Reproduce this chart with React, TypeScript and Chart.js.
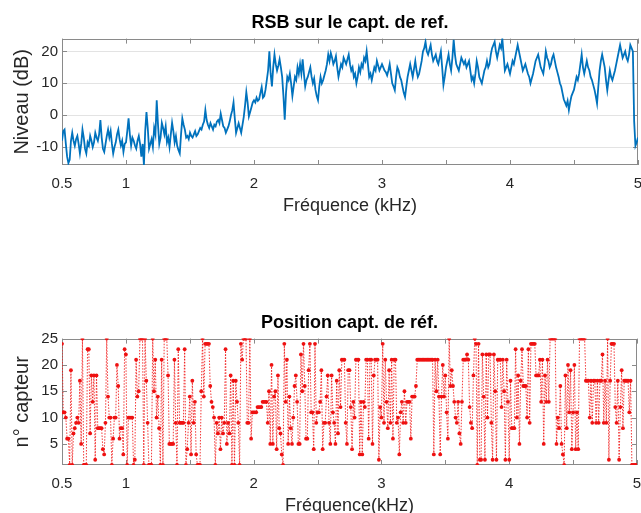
import React, { useEffect, useRef } from 'react';
import { Chart, registerables } from 'chart.js';

Chart.register(...registerables);
Chart.defaults.font.family = "'Liberation Sans', Arial, Helvetica, sans-serif";

// ---- data ----
const FREQ_START = 0.5; // kHz
const RSB_STEP = 0.01; // kHz between RSB samples
const POS_STEP = 0.01; // kHz between position samples
const X_MIN = 0.5;
const X_MAX = 5;
const X_TICKS = [0.5, 1, 1.5, 2, 2.5, 3, 3.5, 4, 4.5, 5];
const X_LABELED = [0.5, 1, 2, 3, 4, 5];
const RSB_TICKS = [-10, 0, 10, 20];
const RSB_MIN = -15.6;
const RSB_MAX = 24;
const POS_TICKS = [5, 10, 15, 20, 25];
const POS_MIN = 1;
const POS_MAX = 25;

// RSB (dB), 0.50 .. 5.00 kHz
const rsbDb = [
  -8, -5, -4.5, -9, -13, -15, -14, -8, -5.5, -8, -9.6, -7.5, -6.5, -9, -12, -9, -4.5, -7, -10.5, -12,
  -8.5, -9.5, -6.5, -8, -10, -8.5, -5.5, -7, -8, -6, -1.5, -7, -10.5, -11.5, -9, -6.5, -4.5, -7, -5, -9,
  -12, -10, -8.5, -6, -4.5, -7.5, -9.5, -8, -11.5, -9,
  -8.5, -5, -1, -6, -9.5, -7, -8, -9.5, -10.5, -8, -6.5, -9, -13, -9, -15.6, -5, 1, -4, -10.5, -9,
  -7.5, -10, -4, -6, 4.7, -3, -9, -7, -2.4, -4, -6, -3.5, -8.5, -7, -10, -6, -2.4, -5, -8.5, -6.5,
  -9.6, -11, -12, -6, -1, -3, -4.5, -7, -6.5, -7.5,
  -5.5, -6.5, -7, -6, -5, -6.5, -6, -5, -4, -4.5, -3, -2, 1.6, -1.5, -3, -4, -2.5, -3.5, -4.5, -3,
  -3.5, -2, -1.5, -2.5, 0.5, -1.5, -3.5, -4, -5.5, -4.5, -3.5, -2, 0, 1.5, 4, -1, -5.5, -4, -2.5, -4,
  -5.5, -3, -0.5, 3, 7.2, 4, -0.4, 1, 2.5, 4,
  4.7, 4, 5.5, 4.5, 5, 7, 8.8, 5.5, 6, 8, 11, 14, 20, 13, 9, 15, 19, 16, 14, 15.5,
  17.5, 15, 12, 6, -1.4, 7, 12, 11, 13, 10, 6, 9, 12, 11, 15, 13, 16, 13, 17.5, 13,
  9, 11, 12, 13.5, 15, 12, 10, 11.5, 8, 6,
  4.7, 9, 12, 10, 11, 12.5, 14, 16, 19, 17, 19.5, 18, 16, 17, 18.5, 15, 12, 14, 16, 15,
  18, 17, 16, 17.5, 19, 16, 14, 15, 12, 13, 10, 12, 15, 13.5, 16, 15, 18, 17, 20, 16,
  12, 13, 11, 13, 15, 14, 17, 15.5, 14, 15,
  16, 15, 14, 13.5, 12.5, 14, 16, 13, 10, 9, 7.8, 12, 15, 14, 12, 11, 9, 7, 5.7, 9,
  12, 14, 16, 14, 12, 14.5, 17, 14, 12, 13, 15, 17, 20, 21, 23, 20, 19, 20.5, 22, 19,
  17, 18, 19, 17, 16, 18, 20, 15, 9.5, 12,
  15, 17, 19, 16, 14, 18, 23.6, 19, 16, 15, 14, 16, 18, 17, 16, 17, 15, 16, 17, 14,
  11, 12, 10, 13, 17, 15, 12, 11, 10, 12, 14, 15, 17, 15, 16, 19, 21, 22, 23, 20,
  18, 20, 22, 21, 24, 19, 14, 15, 16, 14.5,
  13, 15, 17, 16, 18, 20, 22, 20, 18, 16, 14, 15, 16, 14.5, 13, 12, 10, 11.5, 13, 15,
  17, 18, 19, 17, 15, 14, 13, 16, 20, 18, 17, 15, 16, 18, 19, 17, 15, 13.5, 12, 10,
  9, 7, 5, 4, 3, 4.5, 1.6, 4, 6, 7,
  8, 10, 12, 11, 13, 16, 19, 15, 13, 15, 17, 15, 14, 12, 11, 9.5, 8, 6, 3.7, 9,
  14, 17, 19, 17, 15, 11, 7.8, 11, 14, 12, 11, 12.5, 14, 16, 18, 20, 22, 20, 18, 19,
  20, 18, 17, 19, 22, 21, 20, -2, -9.6, -8.5,
  -7,
];

// reference sensor number, 0.50 .. 5.00 kHz
const posCapteur = [
  24, 11, 11, 10, 6, 6, 1, 19, 1, 7, 8, 9, 10, 9, 17, 5, 25, 1, 1, 1, 23, 23, 7, 18, 13,
  18, 2, 18, 8, 8, 8, 8, 4, 3, 9, 25, 14, 10, 10, 1, 6, 10, 10, 20, 16, 6, 8, 8, 3, 23,
  22, 1, 10, 10, 10, 10, 1, 2, 21, 14, 15, 25, 25, 25, 1, 25, 17, 9, 1, 1, 1, 25, 15, 21, 10,
  14, 8, 1, 21, 1, 25, 25, 25, 18, 5, 5, 5, 5, 21, 9, 1, 23, 9, 9, 9, 9, 23, 1, 4, 9,
  14, 3, 17, 9, 13, 3, 1, 1, 1, 15, 25, 14, 24, 24, 24, 24, 16, 13, 12, 10, 1, 9, 7, 10, 4,
  10, 7, 9, 23, 5, 9, 7, 18, 1, 17, 1, 17, 13, 9, 1, 24, 21, 25, 25, 25, 9, 9, 25, 6, 11,
  11, 11, 11, 12, 12, 12, 12, 13, 13, 13, 13, 9, 15, 5, 20, 5, 14, 15, 4, 18, 8, 7, 3, 1, 24,
  13, 21, 5, 14, 8, 5, 10, 16, 18, 13, 5, 5, 22, 15, 24, 16, 6, 6, 19, 24, 11, 11, 4, 24, 9,
  11, 11, 13, 19, 4, 9, 9, 14, 18, 9, 5, 18, 11, 9, 5, 17, 7, 19, 12, 21, 21, 21, 9, 5, 19,
  19, 12, 4, 13, 10, 21, 21, 21, 3, 13, 3, 13, 12, 21, 21, 6, 21, 21, 5, 18, 21, 21, 21, 2, 12,
  10, 24, 9, 21, 13, 8, 19, 9, 21, 6, 21, 21, 9, 10, 3, 11, 13, 9, 15, 9, 13, 13, 13, 6, 14,
  14, 14, 16, 21, 21, 21, 21, 21, 21, 21, 21, 21, 21, 21, 21, 21, 3, 21, 15, 21, 14, 3, 14, 20, 14,
  18, 11, 6, 25, 16, 19, 16, 13, 10, 9, 13, 7, 5, 13, 21, 21, 21, 22, 21, 12, 9, 8, 18, 25, 24,
  1, 24, 2, 2, 22, 14, 2, 22, 10, 22, 22, 9, 2, 22, 15, 2, 21, 21, 21, 12, 21, 15, 2, 21, 13,
  2, 17, 8, 8, 8, 23, 10, 18, 5, 17, 23, 16, 16, 16, 10, 23, 9, 24, 24, 24, 24, 18, 18, 18, 21,
  13, 21, 5, 18, 13, 21, 13, 25, 25, 25, 25, 25, 5, 10, 8, 16, 5, 3, 1, 18, 8, 20, 11, 19, 4,
  11, 20, 4, 11, 4, 25, 25, 25, 25, 25, 17, 17, 17, 10, 17, 9, 17, 17, 9, 17, 9, 17, 17, 22, 9,
  17, 9, 25, 2, 17, 24, 24, 24, 12, 9, 17, 2, 12, 19, 8, 17, 17, 17, 17, 11, 17, 1, 1, 1, 1,
  1,
];

// ---- styling ----
const AXIS_COLOR = '#8a8a8a';
const TEXT_COLOR = '#262626';
const GRID_COLOR = '#e3e3e3';
const TICK_LEN = 5;
const CANVAS_W = 641;
const CANVAS_H = 230;

const boxTicks = {
  id: 'boxTicks',
  beforeDatasetsDraw(chart: any) {
    const { ctx, chartArea: a, scales } = chart;
    ctx.save();
    ctx.strokeStyle = AXIS_COLOR;
    ctx.lineWidth = 1;
    ctx.beginPath();
    for (const t of scales.x.ticks) {
      const px = Math.round(scales.x.getPixelForValue(t.value)) + 0.5;
      ctx.moveTo(px, a.bottom);
      ctx.lineTo(px, a.bottom - TICK_LEN);
      ctx.moveTo(px, a.top);
      ctx.lineTo(px, a.top + TICK_LEN);
    }
    for (const t of scales.y.ticks) {
      const py = Math.round(scales.y.getPixelForValue(t.value)) + 0.5;
      ctx.moveTo(a.left, py);
      ctx.lineTo(a.left + TICK_LEN, py);
      ctx.moveTo(a.right, py);
      ctx.lineTo(a.right - TICK_LEN, py);
    }
    ctx.stroke();
    ctx.strokeRect(
      Math.round(a.left) + 0.5,
      Math.round(a.top) + 0.5,
      Math.round(a.right - a.left) - 1,
      Math.round(a.bottom - a.top) - 1
    );
    ctx.restore();
  },
};

function makeConfig(opts: {
  title: string;
  xTitle: string;
  yTitle: string;
  points: { x: number; y: number }[];
  yMin: number;
  yMax: number;
  yTicks: number[];
  yGrid: boolean;
  dataset: any;
}): any {
  return {
    type: 'line',
    data: {
      datasets: [{ data: opts.points, tension: 0, ...opts.dataset }],
    },
    options: {
      responsive: false,
      animation: false,
      devicePixelRatio: 1,
      events: [],
      layout: { padding: { left: 0, right: 3, top: 0, bottom: 0 } },
      plugins: {
        legend: { display: false },
        tooltip: { enabled: false },
        title: {
          display: true,
          text: opts.title,
          fullSize: false,
          color: '#000',
          font: { size: 18, weight: 'bold' },
          padding: { top: 12, bottom: 5 },
        },
      },
      scales: {
        x: {
          type: 'linear',
          min: X_MIN,
          max: X_MAX,
          afterBuildTicks: (s: any) => {
            s.ticks = X_TICKS.map((v) => ({ value: v }));
          },
          afterFit: (s: any) => {
            s.height = 65;
            s.paddingLeft = 0;
            s.paddingRight = 0;
          },
          grid: { display: false, drawTicks: false },
          border: { display: false },
          ticks: {
            autoSkip: false,
            maxRotation: 0,
            padding: 10,
            color: TEXT_COLOR,
            font: { size: 15 },
            callback: (v: number) => (X_LABELED.includes(v) ? String(v) : ''),
          },
          title: {
            display: true,
            text: opts.xTitle,
            color: TEXT_COLOR,
            font: { size: 18 },
            padding: { top: 0, bottom: 13 },
          },
        },
        y: {
          type: 'linear',
          min: opts.yMin,
          max: opts.yMax,
          afterBuildTicks: (s: any) => {
            s.ticks = opts.yTicks.map((v) => ({ value: v }));
          },
          afterFit: (s: any) => {
            s.width = 62;
            s.paddingTop = 0;
            s.paddingBottom = 0;
          },
          grid: {
            display: opts.yGrid,
            drawTicks: false,
            color: GRID_COLOR,
            lineWidth: 1,
          },
          border: { display: false },
          ticks: {
            padding: 4,
            color: TEXT_COLOR,
            font: { size: 15 },
            callback: (v: number) => String(v),
          },
          title: {
            display: true,
            text: opts.yTitle,
            color: TEXT_COLOR,
            font: { size: 20 },
            padding: { top: 10, bottom: 0 },
          },
        },
      },
    },
    plugins: [boxTicks],
  };
}

export default function App() {
  const topRef = useRef<HTMLCanvasElement | null>(null);
  const botRef = useRef<HTMLCanvasElement | null>(null);

  useEffect(() => {
    const rsbPoints = rsbDb.map((y, i) => ({ x: FREQ_START + i * RSB_STEP, y }));
    const posPoints = posCapteur.map((y, i) => ({ x: FREQ_START + i * POS_STEP, y }));

    const top = new Chart(
      topRef.current as HTMLCanvasElement,
      makeConfig({
        title: 'RSB sur le capt. de ref.',
        xTitle: 'Fréquence (kHz)',
        yTitle: 'Niveau (dB)',
        points: rsbPoints,
        yMin: RSB_MIN,
        yMax: RSB_MAX,
        yTicks: RSB_TICKS,
        yGrid: true,
        dataset: {
          borderColor: '#0072BD',
          borderWidth: 1.8,
          pointRadius: 0,
        },
      })
    );

    const bot = new Chart(
      botRef.current as HTMLCanvasElement,
      makeConfig({
        title: 'Position capt. de réf.',
        xTitle: 'Fréquence(kHz)',
        yTitle: 'n° capteur',
        points: posPoints,
        yMin: POS_MIN,
        yMax: POS_MAX,
        yTicks: POS_TICKS,
        yGrid: false,
        dataset: {
          borderColor: 'rgba(240, 20, 20, 0.85)',
          borderWidth: 1,
          borderDash: [1.5, 1.5],
          pointRadius: 1.9,
          pointBorderWidth: 0,
          pointBackgroundColor: '#ee1111',
        },
      })
    );

    return () => {
      top.destroy();
      bot.destroy();
    };
  }, []);

  return (
    <div
      style={{
        position: 'fixed',
        left: 0,
        top: 0,
        width: CANVAS_W,
        height: 513,
        overflow: 'hidden',
        background: '#fff',
      }}
    >
      <canvas
        ref={topRef}
        width={CANVAS_W}
        height={CANVAS_H}
        style={{ position: 'absolute', left: 0, top: 0 }}
      />
      <canvas
        ref={botRef}
        width={CANVAS_W}
        height={CANVAS_H}
        style={{ position: 'absolute', left: 0, top: 300 }}
      />
    </div>
  );
}
